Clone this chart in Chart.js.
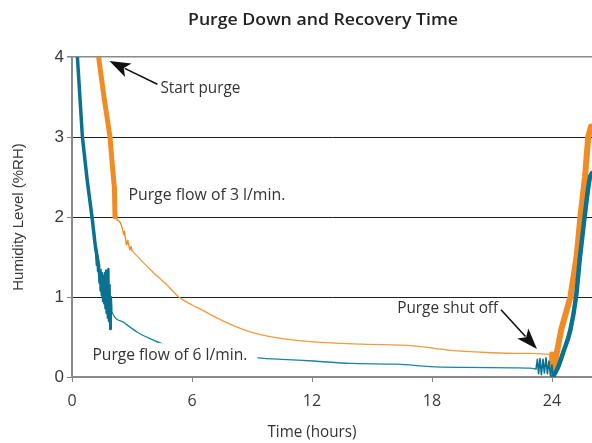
<!DOCTYPE html>
<html><head><meta charset="utf-8">
<script src="https://cdn.jsdelivr.net/npm/chart.js@4.4.1/dist/chart.umd.min.js"></script>
<style>html,body{margin:0;padding:0;background:#fff;}canvas{display:block;}</style>
</head><body>
<canvas id="c" width="592" height="443"></canvas>
<script>
// ---- axes ----
const X_TICKS = [0, 6, 12, 18, 24];
const Y_TICKS = [0, 1, 2, 3, 4];

// ---- Purge flow of 6 l/min (hours, %RH) ----
const T6_DROP  = [0.27, 0.52, 0.76, 1.00, 1.17, 1.34];
const V6_DROP  = [4.00, 3.00, 2.46, 2.00, 1.63, 1.38];
const T6_NOISE = [1.20,1.24,1.27,1.30,1.34,1.37,1.40,1.43,1.46,1.49,1.52,1.55,1.58,1.61,1.64,1.67,1.70,1.73,1.76,1.79,1.82,1.85,1.88,1.91,1.94,1.97];
const V6_NOISE = [1.58,1.40,1.52,1.32,1.38,1.18,1.34,1.08,1.30,1.02,1.27,0.95,1.24,0.92,1.30,0.86,1.33,0.80,1.22,0.74,1.35,0.70,1.15,0.60,1.00,0.85];
const T6_DECAY = [1.97,2.02,2.60,3.27,3.90,4.57,5.50,6.50,7.50,8.50,9.27,10.5,12.07,13.9,16.25,17.9,19.6,22.05,22.9,23.2];
const V6_DECAY = [0.85,0.80,0.68,0.56,0.48,0.41,0.35,0.31,0.28,0.26,0.24,0.22,0.20,0.17,0.16,0.13,0.12,0.115,0.11,0.10];
const T6_SPIKE = [23.2,23.27,23.33,23.40,23.47,23.55,23.62,23.70,23.77,23.85,23.92,24.0,24.05];
const V6_SPIKE = [0.10,0.22,0.04,0.23,0.03,0.22,0.05,0.24,0.04,0.20,0.02,0.15,0.00];
const T6_RISE  = [24.05,24.30,24.55,24.92,25.20,25.40,25.63,25.90,26.0];
const V6_RISE  = [0.00,0.12,0.30,0.59,1.00,1.50,2.00,2.50,2.55];

// ---- Purge flow of 3 l/min ----
const T3_DROP  = [1.33,1.60,1.90,2.05,2.12,2.15];
const V3_DROP  = [4.00,3.50,3.00,2.55,2.37,2.00];
const T3_NOISE = [2.15,2.20,2.26,2.34,2.42,2.50,2.59,2.62,2.72,2.79,2.89,2.96,3.00];
const V3_NOISE = [2.00,2.08,1.96,1.95,1.93,1.87,1.78,1.82,1.65,1.71,1.59,1.63,1.58];
const T3_DECAY = [3.00,3.92,4.75,5.34,6.00,6.50,7.00,7.90,8.60,9.42,10.5,12.07,14.56,17.06,18.7,20.4,22.05,22.9,24.0];
const V3_DECAY = [1.58,1.34,1.15,1.00,0.90,0.84,0.77,0.66,0.59,0.53,0.48,0.44,0.41,0.39,0.34,0.31,0.295,0.295,0.28];
const T3_RISE  = [24.0,24.05,24.46,24.92,25.23,25.42,25.65,25.81,25.95];
const V3_RISE  = [0.28,0.05,0.59,1.00,1.50,2.00,2.50,3.00,3.13];

// ---- text annotations (data units: hours, %RH) ----
const TITLE = 'Purge Down and Recovery Time';
const X_TITLE = 'Time (hours)';
const Y_TITLE = 'Humidity Level (%RH)';
const NOTES = [
  { text: 'Start purge',            t: 4.42,  v: 3.55,  w: 80 },
  { text: 'Purge flow of 3 l/min.', t: 2.82,  v: 2.21,  w: 157 },
  { text: 'Purge flow of 6 l/min.', t: 1.02,  v: 0.21,  w: 155, box: true },
  { text: 'Purge shut off',         t: 16.26, v: 0.80,  w: 101 }
];
const ARROWS = [
  { from: [4.27, 3.66], to: [1.87, 3.95] },
  { from: [21.45, 0.84], to: [23.25, 0.35] }
];

const TEAL = '#0a7191', TEAL_LIGHT = '#1a86a3';
const ORANGE = '#f08c23', ORANGE_LIGHT = '#f39a3c';

const pts = (T, V) => T.map((t, i) => ({ x: t, y: V[i] }));
function ds(label, T, V, color, width, smooth, order) {
  return { label, data: pts(T, V), borderColor: color, backgroundColor: color,
    borderWidth: width, pointRadius: 0, tension: smooth ? 0.4 : 0,
    cubicInterpolationMode: smooth ? 'monotone' : 'default', fill: false, order,
    borderJoinStyle: 'round', borderCapStyle: 'round' };
}

const datasets = [
  ds('6 l/min drop',  T6_DROP,  V6_DROP,  TEAL, 3.5, false, 1),
  ds('6 l/min noise', T6_NOISE, V6_NOISE, TEAL, 2.4, false, 1),
  ds('6 l/min',       T6_DECAY, V6_DECAY, TEAL_LIGHT, 1.3, true, 1),
  ds('6 l/min off',   T6_SPIKE, V6_SPIKE, TEAL, 1.6, false, 1),
  ds('6 l/min rise',  T6_RISE,  V6_RISE,  TEAL, 4.5, true, 1),
  ds('3 l/min drop',  T3_DROP,  V3_DROP,  ORANGE, 5, false, 2),
  ds('3 l/min noise', T3_NOISE, V3_NOISE, ORANGE, 1.4, false, 2),
  ds('3 l/min',       T3_DECAY, V3_DECAY, ORANGE_LIGHT, 1.3, true, 2),
  ds('3 l/min rise',  T3_RISE,  V3_RISE,  ORANGE, 6, false, 2)
];

function drawText(ctx, text, x, y, font, color, targetW, align) {
  ctx.save();
  ctx.font = font;
  const w = ctx.measureText(text).width;
  const sx = targetW ? targetW / w : 1;
  ctx.translate(x, y);
  ctx.scale(sx, 1);
  ctx.textAlign = align || 'left';
  ctx.textBaseline = 'alphabetic';
  ctx.fillStyle = color;
  ctx.fillText(text, 0, 0);
  ctx.restore();
}

function arrow(ctx, x1, y1, x2, y2) {
  const ang = Math.atan2(y2 - y1, x2 - x1);
  const L = 21, H = 7.5;
  const bx = x2 - L * Math.cos(ang), by = y2 - L * Math.sin(ang);
  ctx.save();
  ctx.strokeStyle = '#111'; ctx.fillStyle = '#111'; ctx.lineWidth = 1.6;
  ctx.beginPath(); ctx.moveTo(x1, y1); ctx.lineTo(bx + 4 * Math.cos(ang), by + 4 * Math.sin(ang)); ctx.stroke();
  ctx.beginPath();
  ctx.moveTo(x2, y2);
  ctx.lineTo(bx + H * Math.sin(ang), by - H * Math.cos(ang));
  ctx.lineTo(bx + 5 * Math.cos(ang), by + 5 * Math.sin(ang));
  ctx.lineTo(bx - H * Math.sin(ang), by + H * Math.cos(ang));
  ctx.closePath(); ctx.fill();
  ctx.restore();
}

const notesPlugin = {
  id: 'notes',
  afterDatasetsDraw(chart) {
    const ctx = chart.ctx, xs = chart.scales.x, ys = chart.scales.y;
    const FONT = '16px "Open Sans"';
    NOTES.forEach(n => {
      const x = xs.getPixelForValue(n.t), y = ys.getPixelForValue(n.v);
      if (n.box) {
        ctx.save(); ctx.fillStyle = '#fff';
        ctx.fillRect(x - 3, y - 17, n.w + 13, 23);
        ctx.restore();
      }
      drawText(ctx, n.text, x, y, FONT, '#333', n.w, 'left');
    });
    ARROWS.forEach(a => {
      arrow(ctx, xs.getPixelForValue(a.from[0]), ys.getPixelForValue(a.from[1]),
                 xs.getPixelForValue(a.to[0]), ys.getPixelForValue(a.to[1]));
    });
  },
  afterDraw(chart) {
    const ctx = chart.ctx, xs = chart.scales.x;
    drawText(ctx, TITLE, 323, 25, '600 17px "Open Sans"', '#222', 270, 'center');
    const cx = (xs.getPixelForValue(X_TICKS[0]) + xs.getPixelForValue(X_TICKS[X_TICKS.length - 1])) / 2;
    drawText(ctx, X_TITLE, cx, 437, '16px "Open Sans"', '#333', 89, 'center');
  }
};

new Chart(document.getElementById('c'), {
  type: 'line',
  data: { datasets },
  options: {
    responsive: false, animation: false, devicePixelRatio: 1,
    layout: { padding: { top: 57, right: 0, left: 0, bottom: 0 } },
    plugins: { legend: { display: false }, title: { display: false }, tooltip: { enabled: false } },
    scales: {
      x: {
        type: 'linear', min: 0, max: 26,
        afterBuildTicks: s => { s.ticks = X_TICKS.map(v => ({ value: v })); },
        afterFit: s => { s.height = 66; },
        grid: { drawOnChartArea: false, drawTicks: true, tickLength: 5, tickColor: '#888' },
        border: { display: true, color: '#8a8a8a', width: 2 },
        ticks: { padding: 10, color: '#3a3a3a', font: { family: 'Open Sans', size: 16 }, maxRotation: 0 }
      },
      y: {
        type: 'linear', min: 0, max: 4,
        afterBuildTicks: s => { s.ticks = Y_TICKS.map(v => ({ value: v })); },
        afterFit: s => { s.width = 72; },
        grid: {
          color: c => c.tick && c.tick.value === 0 ? 'rgba(0,0,0,0)' : (c.tick && c.tick.value === 4 ? '#8a8a8a' : '#222'),
          lineWidth: c => c.tick && c.tick.value === 4 ? 1.6 : 1,
          tickLength: 5, tickColor: '#888'
        },
        border: { display: true, color: '#8a8a8a', width: 2 },
        ticks: { padding: 3, color: '#3a3a3a', font: { family: 'Liberation Sans', size: 17 } },
        title: { display: true, text: Y_TITLE, color: '#3a3a3a',
          font: { family: 'Liberation Sans', size: 15 }, padding: { top: 10, bottom: 0 } }
      }
    }
  },
  plugins: [notesPlugin]
});
</script>
</body></html>
